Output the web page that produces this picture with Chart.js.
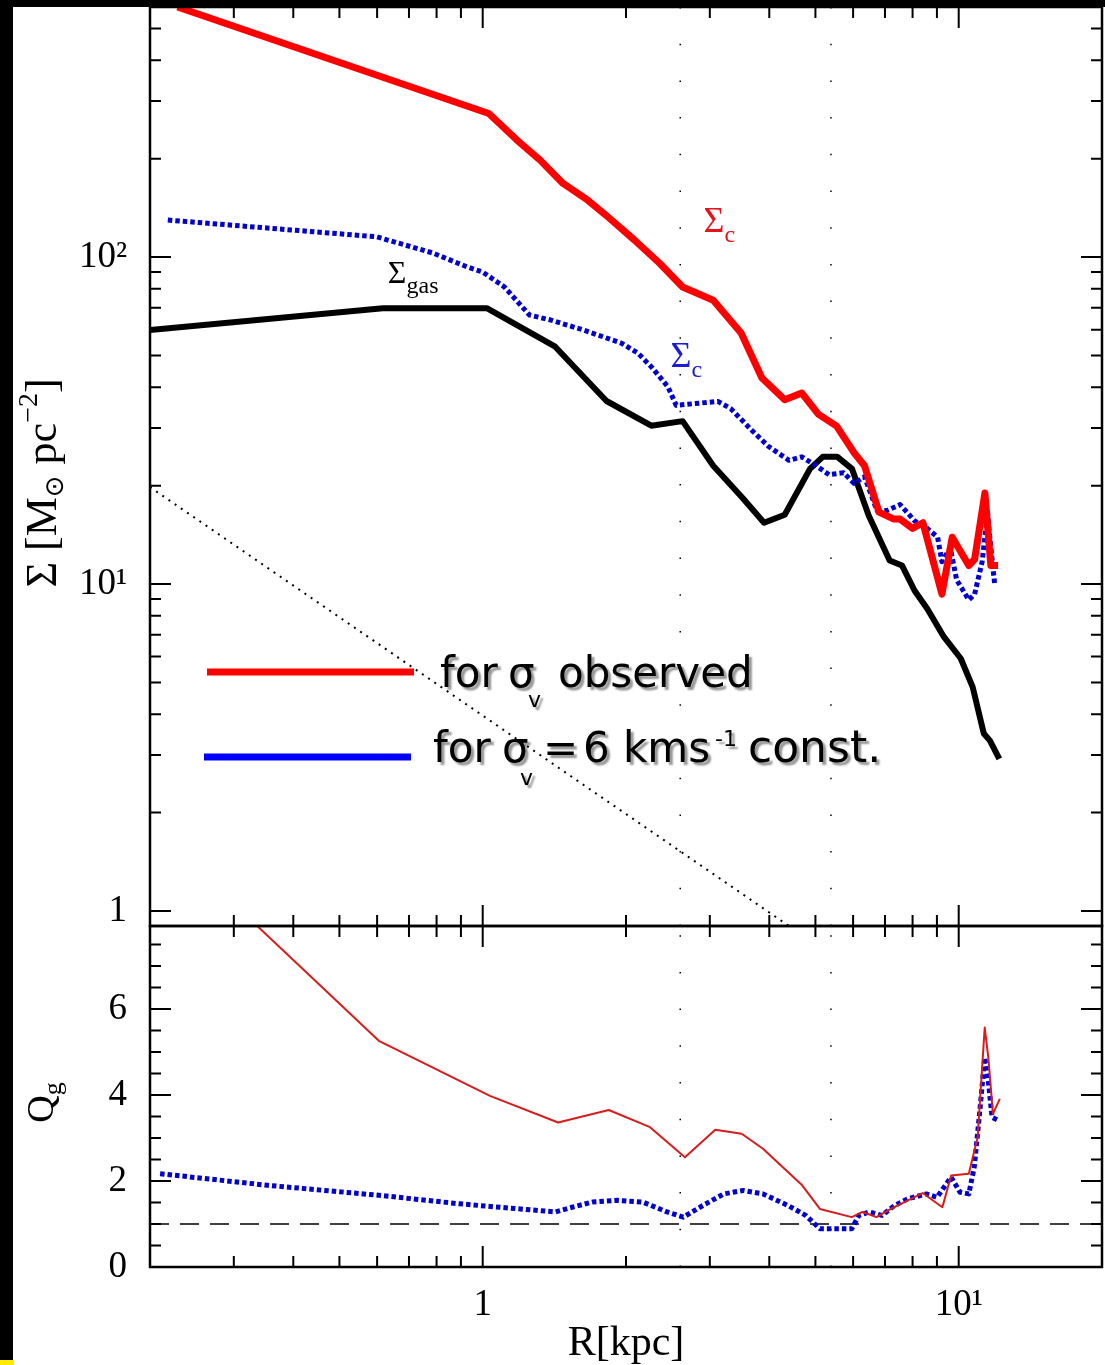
<!DOCTYPE html>
<html>
<head>
<meta charset="utf-8">
<script src="https://cdn.jsdelivr.net/npm/chart.js@4.4.1/dist/chart.umd.min.js"></script>
<style>
  html, body { margin: 0; padding: 0; background: #000; width: 1105px; height: 1365px; overflow: hidden; }
  #sheet { position: absolute; left: 13px; top: 7px; width: 1092px; height: 1358px; background: #fff; }
  #topChart { position: absolute; left: 0; top: 0; }
  #qChart { position: absolute; left: 0; top: 900px; }
  #corner { position: absolute; left: 0; top: 1360px; width: 14px; height: 5px; background: #ffea00; }
</style>
</head>
<body>
<div id="sheet"></div>
<div id="corner"></div>
<canvas id="topChart" width="1105" height="940"></canvas>
<canvas id="qChart" width="1105" height="465"></canvas>
<script>
const SERIF = '"Liberation Serif", "DejaVu Serif", serif';
const SANS = '"DejaVu Sans", "Noto Sans", sans-serif';

// critical density, observed velocity dispersion [M_sun pc^-2]
const rCritObs = [0.2285, 1.03, 1.18, 1.32, 1.475, 1.665, 1.84, 2.08, 2.35, 2.63, 3.05, 3.49, 3.86, 4.31, 4.68, 5.07, 5.54, 6.03, 6.34, 6.80, 7.31, 7.53, 8.00, 8.41, 9.22, 9.69, 10.5, 10.8, 11.35, 11.68, 12.1];
const sigCritObs = [582, 275, 228, 198, 168, 149, 132, 113, 95.9, 81, 73.8, 58.6, 42.7, 36.6, 38.4, 33.1, 30.4, 25.2, 23.0, 16.6, 15.8, 15.8, 14.8, 15.4, 9.31, 13.9, 11.4, 11.9, 19.0, 11.4, 11.4];

// critical density, constant 6 km/s dispersion
const rCritConst = [0.218, 0.598, 0.786, 0.926, 1.0, 1.11, 1.254, 1.39, 1.63, 1.96, 2.12, 2.26, 2.45, 2.55, 3.12, 3.32, 3.67, 3.98, 4.40, 4.68, 5.02, 5.34, 5.73, 6.03, 6.34, 6.73, 7.08, 7.53, 7.84, 8.08, 8.50, 9.03, 9.22, 9.60, 9.90, 10.5, 10.8, 11.2, 11.5, 11.6, 11.9];
const sigCritConst = [129.8, 115.4, 102.9, 93.4, 90.0, 81.1, 66.5, 64.2, 59.8, 54.5, 50.8, 46.2, 40.1, 35.2, 36.2, 34.4, 29.6, 26.4, 23.9, 24.5, 23.0, 21.6, 21.9, 20.3, 21.3, 16.8, 16.8, 17.5, 16.4, 15.6, 15.0, 13.9, 11.7, 12.9, 10.3, 8.95, 9.31, 11.7, 16.6, 14.3, 10.0];

// gas surface density
const rGas = [0.2, 0.617, 1.02, 1.42, 1.82, 2.26, 2.63, 3.05, 3.52, 3.90, 4.31, 4.87, 5.18, 5.56, 5.97, 6.47, 7.16, 7.60, 8.08, 8.59, 9.31, 10.1, 10.7, 11.29, 11.63, 12.17];
const sigGas = [59.8, 69.8, 69.8, 53.2, 36.3, 30.5, 31.5, 23.0, 18.3, 15.4, 16.3, 22.5, 24.5, 24.5, 22.5, 16.2, 11.8, 11.4, 9.54, 8.41, 6.89, 5.92, 4.84, 3.49, 3.32, 2.92];

// reference slope line (Sigma ~ 1/R)
const rSlope = [0.2, 4.4];
const sigSlope = [19.8, 0.9];

// Toomre Q of the gas
const rQObs = [0.336, 0.605, 1.036, 1.44, 1.84, 2.24, 2.66, 3.08, 3.50, 3.88, 4.69, 5.11, 5.96, 6.28, 6.72, 7.20, 8.40, 9.24, 9.64, 10.5, 10.96, 11.34, 11.54, 11.8, 12.2];
const qObs = [7.93, 5.26, 3.98, 3.36, 3.65, 3.26, 2.55, 3.19, 3.10, 2.75, 1.90, 1.35, 1.16, 1.28, 1.16, 1.35, 1.72, 1.39, 2.13, 2.17, 3.02, 5.57, 4.87, 3.56, 3.91];
const rQConst = [0.21, 0.353, 0.616, 0.893, 1.42, 1.54, 1.70, 1.92, 2.17, 2.44, 2.64, 2.90, 3.21, 3.53, 3.88, 4.38, 4.77, 5.11, 5.96, 6.17, 6.49, 6.90, 7.33, 7.84, 8.55, 9.00, 9.64, 10.06, 10.5, 10.78, 11.06, 11.34, 11.54, 11.75, 12.15];
const qConst = [2.17, 1.90, 1.66, 1.47, 1.28, 1.39, 1.51, 1.55, 1.51, 1.28, 1.16, 1.43, 1.70, 1.78, 1.70, 1.43, 1.20, 0.89, 0.89, 1.20, 1.28, 1.20, 1.43, 1.59, 1.70, 1.62, 2.09, 1.74, 1.70, 2.32, 3.56, 4.87, 4.33, 3.48, 3.40];
const qThreshold = 1;

// dotted radial markers [kpc]
const radialMarks = [2.6, 5.39];

// axis ranges and ticks
const rRange = [0.2, 20];
const sigRange = [0.9, 582];
const qRange = [0, 7.93];
const rTicks = [0.3, 0.4, 0.5, 0.6, 0.7, 0.8, 0.9, 1, 2, 3, 4, 5, 6, 7, 8, 9, 10];
const rMajor = [1, 10];
const sigTicks = [1, 2, 3, 4, 5, 6, 7, 8, 9, 10, 20, 30, 40, 50, 60, 70, 80, 90, 100, 200, 300, 400, 500];
const sigMajor = [1, 10, 100];
const qTicks = [0.5, 1, 1.5, 2, 2.5, 3, 3.5, 4, 4.5, 5, 5.5, 6, 6.5, 7, 7.5];
const qMajor = [2, 4, 6];
const rLabels = { 1: '1', 10: '10¹' };
const sigLabels = { 1: '1', 10: '10¹', 100: '10²' };
const qLabels = { 0: '0', 2: '2', 4: '4', 6: '6' };

const zip = (xs, ys) => xs.map((x, i) => ({ x: x, y: ys[i] }));

function line(data, color, width, dash, order) {
  return {
    data: data, borderColor: color, borderWidth: width, borderDash: dash || [],
    pointRadius: 0, tension: 0, fill: false, clip: 0, order: order,
    borderJoinStyle: 'round'
  };
}

// fixed axis box, no extra room for overhanging labels
function fixBox(size) {
  return function (s) {
    if (s.isHorizontal()) s.height = size; else s.width = size;
    s.paddingTop = 0; s.paddingBottom = 0; s.paddingLeft = 0; s.paddingRight = 0;
  };
}

function fontOf(p) { return (p.size || 36) + 'px ' + (p.family || SERIF); }

function runsWidth(ctx, parts) {
  let w = 0;
  parts.forEach(p => { ctx.font = fontOf(p); w += ctx.measureText(p.t).width; });
  return w;
}

// draws a row of text pieces; a piece with "at" starts at that offset
function drawRuns(ctx, x, y, parts) {
  let cx = x;
  parts.forEach(p => {
    ctx.font = fontOf(p);
    ctx.fillStyle = p.color || '#000';
    if (p.at !== undefined) cx = x + p.at;
    ctx.fillText(p.t, cx, y + (p.dy || 0));
    cx += ctx.measureText(p.t).width;
  });
}

function drawVertical(ctx, baseX, midY, parts) {
  ctx.save();
  ctx.translate(baseX, midY);
  ctx.rotate(-Math.PI / 2);
  drawRuns(ctx, -runsWidth(ctx, parts) / 2, 0, parts);
  ctx.restore();
}

// box with inward ticks on all four sides
const frameTicks = {
  id: 'frameTicks',
  afterDatasetsDraw(chart, args, o) {
    const { ctx, chartArea: a } = chart;
    const xs = chart.scales.x, ys = chart.scales.y;
    ctx.save();
    ctx.strokeStyle = '#000';
    ctx.lineWidth = 2;
    ctx.beginPath();
    o.xTicks.forEach(v => {
      const p = xs.getPixelForValue(v);
      const len = o.xMajor.includes(v) ? 21 : 11;
      ctx.moveTo(p, a.top); ctx.lineTo(p, a.top + len);
      ctx.moveTo(p, a.bottom); ctx.lineTo(p, a.bottom - len);
    });
    o.yTicks.forEach(v => {
      const p = ys.getPixelForValue(v);
      const len = o.yMajor.includes(v) ? 21 : 11;
      ctx.moveTo(a.left, p); ctx.lineTo(a.left + len, p);
      ctx.moveTo(a.right, p); ctx.lineTo(a.right - len, p);
    });
    ctx.stroke();
    ctx.lineWidth = 2.5;
    ctx.strokeRect(a.left, a.top, a.width, a.height);
    ctx.restore();
  }
};

// curve names, legend and axis title of the density panel
const curveTags = [
  { r: 0.632, s: 83.3, sub: 'gas', color: '#000', size: 32 },
  { r: 2.91, s: 119, sub: 'c', color: '#e3141c', size: 36 },
  { r: 2.48, s: 46.1, sub: 'c', color: '#1c1cd4', size: 36 }
];

const densityNotes = {
  id: 'densityNotes',
  afterDraw(chart) {
    const { ctx, chartArea: a, scales: { x, y } } = chart;
    ctx.save();
    ctx.textBaseline = 'alphabetic';
    curveTags.forEach(t => {
      drawRuns(ctx, x.getPixelForValue(t.r), y.getPixelForValue(t.s), [
        { t: 'Σ', size: t.size, color: t.color },
        { t: t.sub, size: 24, dy: 10, color: t.color }
      ]);
    });

    // legend
    ctx.lineCap = 'butt';
    ctx.lineWidth = 7;
    ctx.strokeStyle = '#ff0000';
    ctx.beginPath(); ctx.moveTo(a.left + 57, a.top + 665); ctx.lineTo(a.left + 264, a.top + 665); ctx.stroke();
    ctx.strokeStyle = '#0000ff';
    ctx.beginPath(); ctx.moveTo(a.left + 54, a.top + 750); ctx.lineTo(a.left + 261, a.top + 750); ctx.stroke();

    ctx.shadowColor = 'rgba(0,0,0,0.42)';
    ctx.shadowOffsetX = 3;
    ctx.shadowOffsetY = 3;
    ctx.shadowBlur = 2;
    const S = 42;
    drawRuns(ctx, a.left, a.top + 680, [
      { t: 'for', at: 290, size: S, family: SANS },
      { t: 'σ', at: 358, size: S, family: SANS },
      { t: 'v', at: 378, size: 22, dy: 20, family: SANS },
      { t: 'observed', at: 408, size: S, family: SANS }
    ]);
    drawRuns(ctx, a.left, a.top + 755, [
      { t: 'for', at: 283, size: S, family: SANS },
      { t: 'σ', at: 352, size: S, family: SANS },
      { t: 'v', at: 370, size: 22, dy: 23, family: SANS },
      { t: '=', at: 393, size: S, family: SANS },
      { t: '6', at: 433, size: S, family: SANS },
      { t: 'kms', at: 473, size: S, family: SANS },
      { t: '-1', at: 565, size: 22, dy: -16, family: SANS },
      { t: 'const.', at: 598, size: S + 2, family: SANS }
    ]);
    ctx.shadowColor = 'transparent';

    drawVertical(ctx, 56, a.top + 476, [
      { t: 'Σ', size: 44 },
      { t: ' [M', size: 44 },
      { t: '⊙', size: 26, dy: 7, family: '"DejaVu Sans", sans-serif' },
      { t: ' pc', size: 44 },
      { t: '−2', size: 28, dy: -19 },
      { t: ']', size: 44 }
    ]);
    ctx.restore();
  }
};

const qNotes = {
  id: 'qNotes',
  afterDraw(chart) {
    const { ctx, chartArea: a } = chart;
    ctx.save();
    drawVertical(ctx, 53, (a.top + a.bottom) / 2 + 6, [
      { t: 'Q', size: 38 },
      { t: 'g', size: 26, dy: 8 }
    ]);
    ctx.restore();
  }
};

const tickFont = { family: SERIF, size: 37 };

new Chart(document.getElementById('topChart'), {
  type: 'line',
  data: {
    datasets: [
      line(zip(rCritObs, sigCritObs), '#ff0000', 7, null, 0),
      line(zip(rCritConst, sigCritConst), '#0000d0', 5, [4.5, 3], 1),
      line(zip(rGas, sigGas), '#000000', 6, null, 2),
      line(zip(rSlope, sigSlope), '#000000', 2, [2, 5.5], 3),
      ...radialMarks.map(r => line(zip([r, r], [sigRange[0], sigRange[1]]), '#000000', 1.5, [1.5, 35.2], 4))
    ]
  },
  options: {
    responsive: false,
    animation: false,
    events: [],
    layout: { padding: { top: 7, right: 3, bottom: 14, left: 0 } },
    plugins: {
      legend: { display: false },
      tooltip: { enabled: false },
      frameTicks: { xTicks: rTicks, xMajor: rMajor, yTicks: sigTicks, yMajor: sigMajor }
    },
    scales: {
      x: { type: 'logarithmic', min: rRange[0], max: rRange[1], display: false },
      y: {
        type: 'logarithmic', min: sigRange[0], max: sigRange[1],
        afterFit: fixBox(150),
        afterBuildTicks(s) { s.ticks = Object.keys(sigLabels).map(v => ({ value: +v })); },
        grid: { display: false, drawTicks: false },
        border: { display: false },
        ticks: {
          autoSkip: false, padding: 23, color: '#000', font: tickFont,
          callback: v => sigLabels[v] || ''
        }
      }
    }
  },
  plugins: [frameTicks, densityNotes]
});

new Chart(document.getElementById('qChart'), {
  type: 'line',
  data: {
    datasets: [
      line(zip(rQObs, qObs), '#d81c1c', 2, null, 0),
      line(zip(rQConst, qConst), '#0000d0', 5, [4.5, 3], 1),
      line(zip(rRange, [qThreshold, qThreshold]), '#000000', 1.5, [19, 11], 2),
      ...radialMarks.map(r => line(zip([r, r], [qRange[0], qRange[1]]), '#000000', 1.5, [1.5, 35.2], 3))
    ]
  },
  options: {
    responsive: false,
    animation: false,
    events: [],
    layout: { padding: { top: 26, right: 3, bottom: 0, left: 0 } },
    plugins: {
      legend: { display: false },
      tooltip: { enabled: false },
      frameTicks: { xTicks: rTicks, xMajor: rMajor, yTicks: qTicks, yMajor: qMajor }
    },
    scales: {
      x: {
        type: 'logarithmic', min: rRange[0], max: rRange[1],
        afterFit: fixBox(98),
        afterBuildTicks(s) { s.ticks = Object.keys(rLabels).map(v => ({ value: +v })); },
        grid: { display: false, drawTicks: false },
        border: { display: false },
        ticks: {
          autoSkip: false, maxRotation: 0, padding: 16, color: '#000', font: tickFont,
          callback: v => rLabels[v] || ''
        },
        title: {
          display: true, text: 'R[kpc]', color: '#000',
          font: { family: SERIF, size: 42, lineHeight: 1 },
          padding: { top: 0, bottom: 0 }
        }
      },
      y: {
        type: 'linear', min: qRange[0], max: qRange[1],
        afterFit: fixBox(150),
        afterBuildTicks(s) { s.ticks = Object.keys(qLabels).map(v => ({ value: +v })); },
        grid: { display: false, drawTicks: false },
        border: { display: false },
        ticks: {
          autoSkip: false, padding: 23, color: '#000', font: tickFont,
          callback: v => qLabels[v] || ''
        }
      }
    }
  },
  plugins: [frameTicks, qNotes]
});
</script>
</body>
</html>
